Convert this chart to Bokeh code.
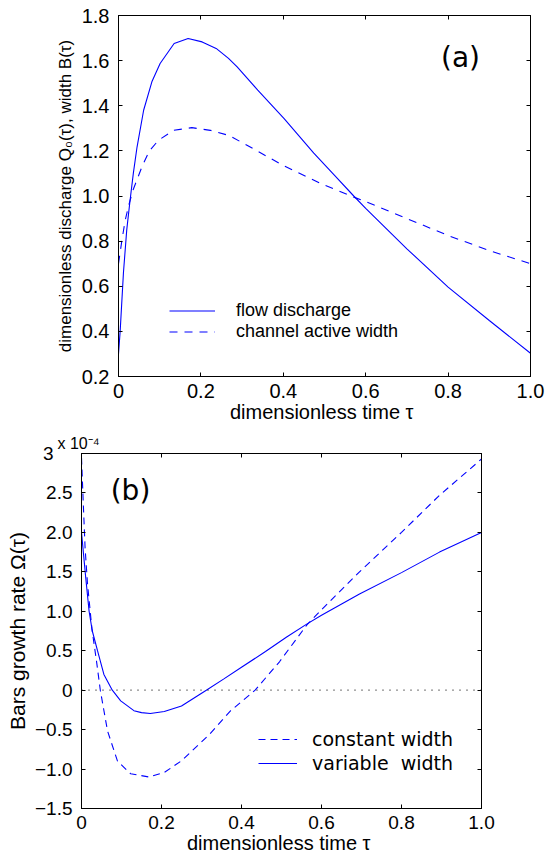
from bokeh.plotting import figure
from bokeh.models import (Legend, LegendItem, LinearAxis, FixedTicker, Label,
                          Span, Range1d)
from bokeh.embed import file_html
from bokeh.resources import INLINE

# ---------------- panel (a) data ----------------
tau_discharge = [0, 0.004, 0.012, 0.02, 0.028, 0.036, 0.045, 0.061, 0.081, 0.101,
                 0.135, 0.169, 0.203, 0.237, 0.267, 0.288, 0.338, 0.402, 0.474,
                 0.525, 0.571, 0.6, 0.7, 0.8, 0.9, 1.0]
flow_discharge = [0.30, 0.40, 0.66, 0.85, 0.98, 1.10, 1.217, 1.38, 1.506, 1.587,
                  1.676, 1.698, 1.683, 1.654, 1.61, 1.572, 1.469, 1.343, 1.19,
                  1.09, 1.0, 0.945, 0.766, 0.596, 0.448, 0.303]

tau_width = [0, 0.008, 0.016, 0.025, 0.036, 0.057, 0.075, 0.097, 0.134, 0.178,
             0.223, 0.267, 0.305, 0.402, 0.491, 0.571, 0.6, 0.7, 0.8, 0.9, 1.0]
active_width = [0.70, 0.80, 0.89, 0.96, 1.03, 1.13, 1.20, 1.247, 1.291, 1.303,
                1.291, 1.269, 1.232, 1.133, 1.055, 0.995, 0.975, 0.90, 0.825,
                0.758, 0.70]

# ---------------- panel (b) data (units of 1e-4) ----------------
tau_const = [0, 0.005, 0.009, 0.015, 0.026, 0.038, 0.047, 0.065, 0.09, 0.123,
             0.168, 0.207, 0.25, 0.32, 0.373, 0.434, 0.495, 0.564, 0.6, 0.695,
             0.8, 0.895, 1.0]
omega_const = [2.95, 2.3, 1.8, 1.35, 0.78, 0.35, 0.0, -0.515, -0.90, -1.06,
               -1.10, -1.044, -0.895, -0.56, -0.26, 0.0, 0.36, 0.83, 1.02,
               1.50, 2.0, 2.47, 2.93]

tau_var = [0, 0.0105, 0.019, 0.027, 0.04, 0.056, 0.077, 0.098, 0.131, 0.15,
           0.172, 0.207, 0.25, 0.312, 0.355, 0.40, 0.46, 0.512, 0.564, 0.6,
           0.695, 0.8, 0.895, 1.0]
omega_var = [2.0, 1.43, 1.0, 0.75, 0.50, 0.20, 0.0, -0.135, -0.26, -0.285,
             -0.296, -0.27, -0.20, 0.0, 0.14, 0.29, 0.49, 0.67, 0.84, 0.95,
             1.22, 1.49, 1.75, 2.0]

# ---------------- ticks ----------------
x_ticks = [0, 0.2, 0.4, 0.6, 0.8, 1.0]
x_tick_labels = ["0", "0.2", "0.4", "0.6", "0.8", "1.0"]
y_ticks_a = [0.2, 0.4, 0.6, 0.8, 1.0, 1.2, 1.4, 1.6, 1.8]
y_tick_labels_a = ["0.2", "0.4", "0.6", "0.8", "1.0", "1.2", "1.4", "1.6", "1.8"]
y_ticks_b = [-1.5, -1.0, -0.5, 0, 0.5, 1.0, 1.5, 2.0, 2.5, 3]
y_tick_labels_b = ["\u22121.5", "\u22121.0", "\u22120.5", "0", "0.5", "1.0",
                   "1.5", "2.0", "2.5", "3\u2002\u2002"]
exponent_label = "x 10\u207b\u2074"

BLUE = "#0000ff"
TICK_FONT = "Liberation Sans"


def style_axis(ax, ticks, labels, size, standoff):
    ax.ticker = FixedTicker(ticks=ticks)
    ax.major_label_overrides = {t: l for t, l in zip(ticks, labels)}
    ax.axis_line_color = "black"
    ax.major_tick_line_color = "black"
    ax.major_tick_in = 4
    ax.major_tick_out = 0
    ax.minor_tick_line_color = None
    ax.major_label_text_font = TICK_FONT
    ax.major_label_text_font_size = size
    ax.major_label_text_color = "black"
    ax.major_label_standoff = standoff
    ax.axis_label_text_font = TICK_FONT
    ax.axis_label_text_font_style = "normal"
    ax.axis_label_text_color = "black"
    ax.axis_label_standoff = 0


def mirror_axis(ticks):
    ax = LinearAxis(ticker=FixedTicker(ticks=ticks))
    ax.major_label_overrides = {t: "" for t in ticks}
    ax.axis_line_color = "black"
    ax.major_tick_line_color = "black"
    ax.major_tick_in = 4
    ax.major_tick_out = 0
    ax.minor_tick_line_color = None
    ax.major_label_standoff = 0
    ax.major_label_text_font_size = "1px"
    return ax


# ================= panel (a) =================
p1 = figure(width=546, height=428, x_range=Range1d(0, 1), y_range=Range1d(0.2, 1.8),
            output_backend="svg", toolbar_location=None,
            min_border_left=118, min_border_right=16, min_border_top=15,
            min_border_bottom=52)
p1.grid.visible = False
p1.outline_line_color = "black"
p1.background_fill_color = "white"
p1.border_fill_color = "white"

style_axis(p1.xaxis[0], x_ticks, x_tick_labels, "20px", 7)
style_axis(p1.yaxis[0], y_ticks_a, y_tick_labels_a, "20px", 9)
p1.xaxis[0].axis_label = "dimensionless time  \u03c4"
p1.xaxis[0].axis_label_text_font_size = "20px"
p1.yaxis[0].axis_label = "dimensionless discharge Q\u2080(\u03c4), width B(\u03c4)"
p1.yaxis[0].axis_label_text_font_size = "17px"
p1.yaxis[0].axis_label_standoff = 4
p1.add_layout(mirror_axis(x_ticks), "above")
p1.add_layout(mirror_axis(y_ticks_a), "right")

r_q = p1.line(tau_discharge, flow_discharge, line_color=BLUE, line_width=1.1)
r_b = p1.line(tau_width, active_width, line_color=BLUE, line_width=1.1,
              line_dash="8 7")

leg1 = Legend(items=[LegendItem(label="flow discharge", renderers=[r_q]),
                     LegendItem(label="channel active width", renderers=[r_b])],
              location=(51, 34), border_line_alpha=0, background_fill_alpha=0,
              padding=0, margin=0, spacing=0, glyph_width=46, glyph_height=21,
              label_height=21, label_standoff=21, label_text_font=TICK_FONT,
              label_text_font_size="18px", label_text_color="black")
p1.add_layout(leg1)

p1.add_layout(Label(x=342, y=319, x_units="screen", y_units="screen", text="(a)",
                    text_align="center", text_baseline="middle",
                    text_font="DejaVu Sans", text_font_size="28px",
                    text_color="black"))

# ================= panel (b) =================
p2 = figure(width=546, height=428, x_range=Range1d(0, 1), y_range=Range1d(-1.5, 3),
            output_backend="svg", toolbar_location=None,
            min_border_left=81, min_border_right=65, min_border_top=25,
            min_border_bottom=48)
p2.grid.visible = False
p2.outline_line_color = "black"
p2.background_fill_color = "white"
p2.border_fill_color = "white"

p2.title.text = exponent_label
p2.title.align = "left"
p2.title.offset = -24
p2.title.standoff = 3
p2.title.text_font = TICK_FONT
p2.title.text_font_size = "16px"
p2.title.text_font_style = "normal"
p2.title.text_color = "black"

style_axis(p2.xaxis[0], x_ticks, x_tick_labels, "19px", 7)
style_axis(p2.yaxis[0], y_ticks_b, y_tick_labels_b, "19px", 9)
p2.xaxis[0].axis_label = "dimensionless time  \u03c4"
p2.xaxis[0].axis_label_text_font_size = "20px"
p2.yaxis[0].axis_label = "Bars growth rate \u03a9(\u03c4)"
p2.yaxis[0].axis_label_text_font_size = "21px"
p2.yaxis[0].axis_label_standoff = 3
p2.add_layout(mirror_axis(x_ticks), "above")
p2.add_layout(mirror_axis(y_ticks_b), "right")

p2.add_layout(Span(location=0, dimension="width", line_color="#222222",
                   line_width=1.2, line_dash="1 6"))

r_c = p2.line(tau_const, omega_const, line_color=BLUE, line_width=1.1,
              line_dash="7 5")
r_v = p2.line(tau_var, omega_var, line_color=BLUE, line_width=1.1)

leg2 = Legend(items=[LegendItem(label="constant width", renderers=[r_c]),
                     LegendItem(label="variable  width", renderers=[r_v])],
              location=(177, 33), border_line_alpha=0, background_fill_alpha=0,
              padding=0, margin=0, spacing=0, glyph_width=39, glyph_height=24,
              label_height=24, label_standoff=15, label_text_font="DejaVu Sans",
              label_text_font_size="19px", label_text_color="black")
p2.add_layout(leg2)

p2.add_layout(Label(x=49, y=318, x_units="screen", y_units="screen", text="(b)",
                    text_align="center", text_baseline="middle",
                    text_font="DejaVu Sans", text_font_size="28px",
                    text_color="black"))

open("out.html", "w").write(file_html([p1, p2], INLINE))
